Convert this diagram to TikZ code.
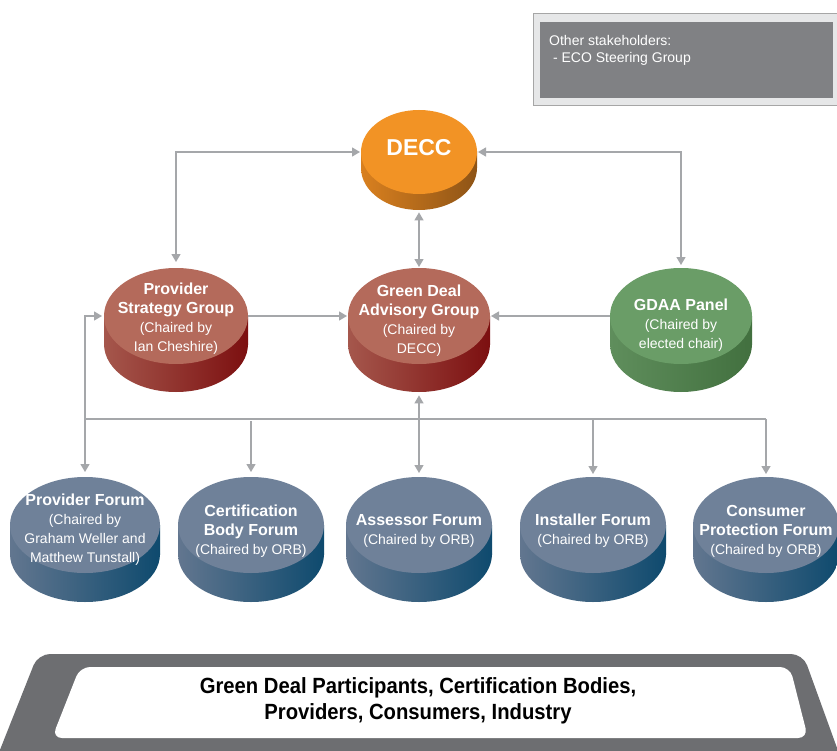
\documentclass[tikz,border=0pt]{standalone}
\usepackage{fontspec}
\setmainfont{Liberation Sans}
\newfontfamily\narrowbold[FakeStretch=0.92]{Liberation Sans Bold}
\usetikzlibrary{arrows.meta,calc}
\definecolor{orT}{HTML}{F29325}
\definecolor{orL}{HTML}{D9801F}
\definecolor{orR}{HTML}{8E5416}
\definecolor{rdT}{HTML}{B46A5B}
\definecolor{rdL}{HTML}{A5574C}
\definecolor{rdR}{HTML}{7C0F10}
\definecolor{grT}{HTML}{6A9D67}
\definecolor{grL}{HTML}{5F8E5C}
\definecolor{grR}{HTML}{42703F}
\definecolor{blT}{HTML}{6F8199}
\definecolor{blL}{HTML}{62768F}
\definecolor{blR}{HTML}{0E4A6E}
\definecolor{connc}{HTML}{A5A7AA}
\definecolor{frame}{HTML}{6D6E71}
\definecolor{boxout}{HTML}{E6E7E8}
\definecolor{boxin}{HTML}{808184}
\newcommand\subt{\fontsize{14}{17}\selectfont\mdseries}
% name, cx, cy, rx, ry, thickness, colour prefix, text offset, text
\newcommand\mydisc[9]{%
  \shade[left color=#7L, right color=#7R] (#2-#4,#3) rectangle (#2+#4,#3+#6);
  \shade[left color=#7L, right color=#7R] (#2,#3+#6) ellipse[x radius=#4pt,y radius=#5pt];
  \fill[#7T] (#2,#3) ellipse[x radius=#4pt,y radius=#5pt];
  \node[inner sep=0pt,minimum width=2*#4pt,minimum height=(2*#5+#6)*1pt,anchor=north] (#1) at (#2,#3-#5) {};
  \coordinate (#1-l) at (#2-#4,#3);
  \coordinate (#1-r) at (#2+#4,#3);
  \node[disctext] (#1-t) at (#2,#3+#8) {#9};
}
\tikzset{
  disctext/.style={text=white,align=center,inner sep=0pt,font=\fontsize{16}{19}\selectfont\bfseries},
  conn/.style={draw=connc,line width=1.3pt,arrows={-Triangle[length=8pt,width=9pt,fill=connc]}},
  connboth/.style={conn,arrows={Triangle[length=8pt,width=9pt,fill=connc]-Triangle[length=8pt,width=9pt,fill=connc]}},
  plain/.style={draw=connc,line width=1.3pt},
}
\begin{document}
\begin{tikzpicture}[x=1pt,y=-1pt]
\useasboundingbox (0,0) rectangle (837,751);
\fill[white] (0,0) rectangle (837,751);
% stakeholders box
\filldraw[fill=boxout,draw=gray!70,line width=0.8pt] (533,13) rectangle (837,105);
\fill[boxin] (540,22) rectangle (833,98);
\node[anchor=north west,text=white,align=left,inner sep=0pt,font=\fontsize{14}{17}\selectfont] (stake) at (549,35) {Other stakeholders:\\\ - ECO Steering Group};
% discs
\mydisc{DECC}{419}{152}{58}{42}{16}{or}{-4}{\fontsize{23}{26}\selectfont DECC}
\mydisc{PSG}{176}{316}{72}{48}{28}{rd}{3}{Provider\\Strategy Group\\\subt(Chaired by\\\subt Ian Cheshire)}
\mydisc{GDAG}{419}{316}{71}{48}{28}{rd}{5}{Green Deal\\Advisory Group\\\subt(Chaired by\\\subt DECC)}
\mydisc{GDAA}{681}{316}{71}{48}{28}{gr}{9}{GDAA Panel\\\subt(Chaired by\\\subt elected chair)}
\mydisc{PF}{85}{525}{75}{48}{29}{bl}{5}{Provider Forum\\\subt(Chaired by\\\subt Graham Weller and\\\subt Matthew Tunstall)}
\mydisc{CBF}{251}{525}{73}{48}{29}{bl}{6}{Certification\\Body Forum\\\subt(Chaired by ORB)}
\mydisc{AF}{419}{525}{73}{48}{29}{bl}{6}{Assessor Forum\\\subt(Chaired by ORB)}
\mydisc{IF}{593}{525}{73}{48}{29}{bl}{6}{Installer Forum\\\subt(Chaired by ORB)}
\mydisc{CPF}{766}{525}{73}{48}{29}{bl}{6}{Consumer\\Protection Forum\\\subt(Chaired by ORB)}
% connectors
\coordinate (bus) at (419,419);
\draw[connboth,shorten <=6pt,shorten >=1pt] (PSG.north) |- (DECC-l);
\draw[connboth,shorten <=3pt,shorten >=1pt] (GDAA.north) |- (DECC-r);
\draw[connboth,shorten <=2pt,shorten >=1pt] (DECC.south) -- (GDAG.north);
\draw[conn,shorten >=1pt] (PSG-r) -- (GDAG-l);
\draw[conn,shorten >=1pt] (GDAA-l) -- (GDAG-r);
\draw[connboth,shorten <=4pt,shorten >=3pt] (AF.north) -- (GDAG.south);
\draw[connboth,shorten <=5pt,shorten >=2pt] (PF.north) |- (PSG-l);
\draw[plain] (PF.north |- bus) -- (CPF.north |- bus);
\draw[conn,shorten <=2pt,shorten >=5pt] (CBF.north |- bus) -- (CBF.north);
\draw[conn,shorten >=3pt] (IF.north |- bus) -- (IF.north);
\draw[conn,shorten >=3pt] (CPF.north |- bus) -- (CPF.north);
% bottom frame
\fill[frame,rounded corners=12pt] (38,654) -- (803,654) -- (845,770) -- (-8,770) -- cycle;
\fill[white,rounded corners=10pt] (80,667) -- (790,667) -- (808,738) -- (52,738) -- cycle;
\node[align=center,inner sep=0pt,font=\narrowbold\fontsize{22}{26}\selectfont] (part) at (418,701) {Green Deal Participants, Certification Bodies,\\Providers, Consumers, Industry};
\end{tikzpicture}
\end{document}
